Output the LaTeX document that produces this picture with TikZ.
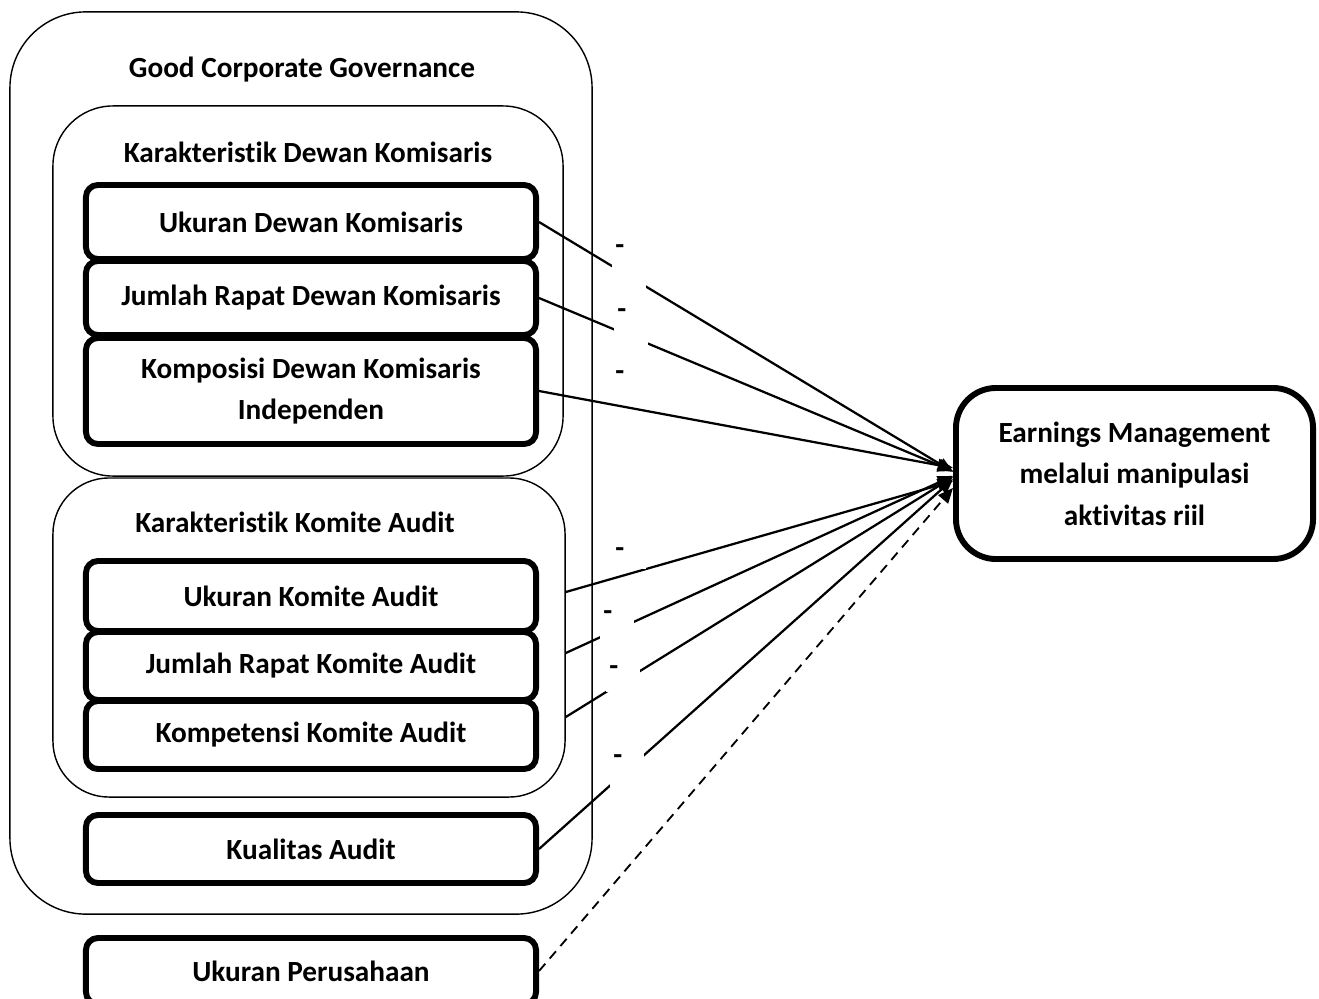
\documentclass[tikz,border=0pt]{standalone}
\usepackage{fontspec}
\setmainfont{Carlito}[Ligatures={NoCommon}]
\usetikzlibrary{arrows.meta}

\tikzset{
  grup/.style={draw, line width=1pt},
  kotak/.style={draw, line width=4.2pt, rounded corners=0.3cm, minimum width=11.25cm,
    align=center, font=\bfseries\fontsize{20.8}{29.5}\selectfont},
  judul/.style={font=\bfseries\fontsize{20.8}{29.5}\selectfont},
  panah/.style={line width=1.6pt, -{Triangle[length=0.38cm,width=0.32cm]}},
  tanda/.style={fill=white, anchor=north west, inner xsep=0.075cm, inner ysep=0pt,
    text width=0.7cm, align=left, text height=0.55cm,
    font=\bfseries\fontsize{20.8}{24}\selectfont},
}

\begin{document}
\begin{tikzpicture}[x=0.025cm, y=-0.025cm]
    \useasboundingbox (0,0) rectangle (1319,998);

    % kelompok
    \node[grup, rounded corners=1.9cm, minimum width=14.55cm, minimum height=22.55cm] (gcg) at (301,463) {};
    \node[grup, rounded corners=1.5cm, minimum width=12.75cm, minimum height=9.25cm] (dewan) at (308,291) {};
    \node[grup, rounded corners=1.4cm, minimum width=12.8cm, minimum height=7.975cm] (komite) at (309,637.5) {};

    \node[judul] (jgcg) at (302,70) {Good Corporate Governance};
    \node[judul] (jdewan) at (308,152) {Karakteristik Dewan Komisaris};
    \node[judul] (jkomite) at (295,522) {Karakteristik Komite Audit};

    % variabel independen
    \node[kotak, minimum height=1.85cm] (ukdk) at (311,222) {Ukuran Dewan Komisaris};
    \node[kotak, minimum height=1.85cm] (jrdk) at (311,298) {Jumlah Rapat Dewan Komisaris};
    \node[kotak, minimum height=2.65cm] (kdki) at (311,391) {Komposisi Dewan Komisaris\\Independen};
    \node[kotak, minimum height=1.75cm] (ukka) at (311,596) {Ukuran Komite Audit};
    \node[kotak, minimum height=1.7cm] (jrka) at (311,666) {Jumlah Rapat Komite Audit};
    \node[kotak, minimum height=1.7cm] (kka) at (311,735) {Kompetensi Komite Audit};
    \node[kotak, minimum height=1.7cm] (kua) at (311,849) {Kualitas Audit};
    \node[kotak, minimum height=1.65cm] (ukp) at (311,971) {Ukuran Perusahaan};

    % variabel dependen
    \node[kotak, rounded corners=1cm, minimum width=8.925cm, minimum height=4.275cm] (em) at (1134.5,473.5)
      {Earnings Management\\melalui manipulasi\\aktivitas riil};

    \node[tanda, text depth=0.7cm] (t3) at (612,358) {-};

    % titik awal dari kotak komite
    \path (komite.east |- ukka.center) ++(0,-4) coordinate (a4);
    \path (komite.east |- jrka.center) ++(0,-13) coordinate (a5);
    \path (komite.east |- kka.center) ++(0,-18) coordinate (a6);

    % panah
    \draw[panah] (ukdk.east) -- ([yshift=0.04cm]em.west);
    \draw[panah] (jrdk.east) -- ([yshift=0.06cm]em.west);
    \draw[panah] (kdki.east) -- ([yshift=0.14cm]em.west);
    \draw[panah] (a4) -- ([yshift=-0.19cm]em.west);
    \draw[panah] (a5) -- ([yshift=-0.06cm]em.west);
    \draw[panah] (a6) -- ([yshift=-0.09cm]em.west);
    \draw[panah] (kua.east) -- ([yshift=-0.14cm]em.west);
    \draw[panah, line width=1.3pt, dash pattern=on 0.24cm off 0.17cm] (ukp.east) -- ([yshift=-0.36cm]em.west);

    % tanda
    \node[tanda, text depth=0.85cm] (t1) at (612,232) {-};
    \node[tanda, text depth=0.725cm] (t2) at (614,296) {-};
    \node[tanda, text depth=0.3cm] (t4) at (612,535) {-};
    \node[tanda, text depth=0.575cm] (t5) at (600,598) {-};
    \node[tanda, text depth=0.425cm] (t6) at (606,653) {-};
    \node[tanda, text depth=0.575cm] (t7) at (610,742) {-};
  \end{tikzpicture}
\end{document}
